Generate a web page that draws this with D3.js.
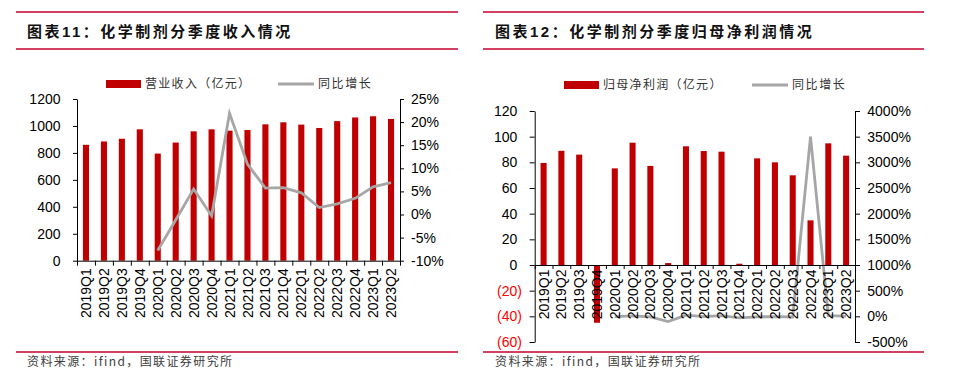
<!DOCTYPE html>
<html><head><meta charset="utf-8">
<script src="https://cdn.jsdelivr.net/npm/d3@7"></script>
<style>body{margin:0;background:#fff}svg{display:block}</style>
</head><body>
<svg id="c" width="956" height="382"></svg>
<script>
const categories = ["2019Q1","2019Q2","2019Q3","2019Q4","2020Q1","2020Q2","2020Q3","2020Q4","2021Q1","2021Q2","2021Q3","2021Q4","2022Q1","2022Q2","2022Q3","2022Q4","2023Q1","2023Q2"];
const revenue = [860, 885, 905, 975, 795, 877, 960, 975, 965, 970, 1012, 1027, 1010, 985, 1036, 1063, 1072, 1052];
const revenueYoY = [null, null, null, null, -7.8, -1.2, 5.5, -0.3, 21.9, 10.9, 5.7, 5.8, 4.7, 1.5, 2.3, 3.5, 6.0, 6.9];
const profit = [79.5, 89, 86, -45, 75.3, 95.3, 77.2, 1.5, 92.5, 88.8, 88.3, 1.0, 83.1, 80, 69.9, 34.8, 94.8, 85.2];
const profitYoY = [null, null, null, null, -5, 7, -10, -102, 23, -7, 14, -30, -10, -4, -13, 3500, 14, 6];
const ticksRevenue = [0, 200, 400, 600, 800, 1000, 1200];
const ticksRevenueYoY = [-10, -5, 0, 5, 10, 15, 20, 25];
const ticksProfit = [-60, -40, -20, 0, 20, 40, 60, 80, 100, 120];
const ticksProfitYoY = [-500, 0, 500, 1000, 1500, 2000, 2500, 3000, 3500, 4000];
const titleLeft = "图表11：化学制剂分季度收入情况";
const titleRight = "图表12：化学制剂分季度归母净利润情况";
const legendBarLeft = "营业收入（亿元）";
const legendBarRight = "归母净利润（亿元）";
const legendLine = "同比增长";
const sourceText = "资料来源：ifind，国联证券研究所";

const RED = "#c00000", GRAY = "#a6a6a6", RULE = "#c4002e";
const NUM_FONT = "'Liberation Sans', Arial, sans-serif";
const CJK_FONT = "'Noto Sans CJK SC', sans-serif";
const svg = d3.select("#c");
svg.append("rect").attr("width",956).attr("height",382).attr("fill","#fff");

function panel(cfg) {
  const g = svg.append("g");
  // rules
  [12, 49, 352].forEach(y => g.append("line").attr("x1", cfg.ruleX0).attr("x2", cfg.ruleX1)
    .attr("y1", y).attr("y2", y).attr("stroke", RULE).attr("stroke-width", 1.3));
  g.append("text").attr("x", cfg.titleX).attr("y", 37).text(cfg.title)
    .attr("font-family", "'Liberation Sans', 'Noto Sans CJK SC', sans-serif").attr("font-weight", "bold")
    .attr("font-size", 15).attr("letter-spacing", 2.5).attr("fill", "#111");
  g.append("text").attr("x", cfg.titleX).attr("y", 362).attr("dy", "0.35em").text(sourceText)
    .attr("font-family", CJK_FONT).attr("font-size", 12).attr("letter-spacing", 1.4).attr("fill", "#404040");
  // legend
  const ly = cfg.legendY;
  g.append("rect").attr("x", cfg.legRect).attr("y", ly - 4).attr("width", 35).attr("height", 8).attr("fill", RED);
  g.append("text").attr("x", cfg.legRect + 39).attr("y", ly).attr("dy", "0.36em").text(cfg.legendBar)
    .attr("font-family", CJK_FONT).attr("font-size", 12).attr("letter-spacing", 1.3).attr("fill", "#333");
  g.append("line").attr("x1", cfg.legLine).attr("x2", cfg.legLine + 36).attr("y1", ly).attr("y2", ly)
    .attr("stroke", GRAY).attr("stroke-width", 3);
  g.append("text").attr("x", cfg.legLine + 40).attr("y", ly).attr("dy", "0.36em").text(legendLine)
    .attr("font-family", CJK_FONT).attr("font-size", 12).attr("letter-spacing", 1.6).attr("fill", "#333");

  const x = d3.scaleBand().domain(categories).range([cfg.x0, cfg.x1]).padding(0);
  const yL = d3.scaleLinear().domain(cfg.domL).range([cfg.yBottom, cfg.yTop]);
  const yR = d3.scaleLinear().domain(cfg.domR).range([cfg.yBottom, cfg.yTop]);
  const bw = x.bandwidth() * 0.34;
  const cx = c => x(c) + x.bandwidth() / 2;

  g.append("g").selectAll("rect").data(categories).join("rect")
    .attr("x", c => cx(c) - bw / 2)
    .attr("y", (c, i) => yL(Math.max(0, cfg.bars[i])))
    .attr("width", bw)
    .attr("height", (c, i) => Math.abs(yL(cfg.bars[i]) - yL(0)))
    .attr("fill", RED);

  const line = d3.line().defined(d => d.v != null).x(d => cx(d.c)).y(d => yR(d.v));
  g.append("path").datum(categories.map((c, i) => ({c, v: cfg.yoy[i]})))
    .attr("d", line).attr("fill", "none").attr("stroke", GRAY).attr("stroke-width", 2.8);

  const axY = yL(0);
  // x axis: labels via d3 axis, ticks at band boundaries
  const xa = g.append("g").attr("transform", `translate(0,${axY})`)
    .call(d3.axisBottom(x).tickSize(0).tickSizeOuter(0));
  xa.select(".domain").remove();
  xa.selectAll(".tick text").attr("transform", "rotate(-90)").attr("text-anchor", "end")
    .attr("x", -cfg.xLabGap).attr("y", 0).attr("dy", "0.36em")
    .attr("font-family", NUM_FONT).attr("font-size", 14).attr("fill", "#000");
  const bx = d3.scaleLinear().domain([0, categories.length]).range([cfg.x0, cfg.x1]);
  const xt = g.append("g").attr("transform", `translate(0,${axY})`)
    .call(d3.axisBottom(bx).tickValues(d3.range(categories.length + 1)).tickSize(cfg.xTick).tickSizeOuter(0).tickFormat(""));
  xt.selectAll("line,path").attr("stroke", "#000");

  const la = g.append("g").attr("transform", `translate(${cfg.x0},0)`)
    .call(d3.axisLeft(yL).tickValues(cfg.ticksL).tickSize(cfg.yTick).tickSizeOuter(0).tickPadding(cfg.padL).tickFormat(cfg.fmtL));
  la.selectAll("line,path").attr("stroke", "#000");
  la.selectAll("text").attr("font-family", NUM_FONT).attr("font-size", 14)
    .attr("fill", d => d < 0 ? "#ff0000" : "#000").attr("dx", d => d < 0 ? 4.7 : 0);

  const ra = g.append("g").attr("transform", `translate(${cfg.x1},0)`)
    .call(d3.axisRight(yR).tickValues(cfg.ticksR).tickSize(cfg.yTick).tickSizeOuter(0).tickPadding(cfg.padR).tickFormat(d => d + "%"));
  ra.selectAll("line,path").attr("stroke", "#000");
  ra.selectAll("text").attr("font-family", NUM_FONT).attr("font-size", 14).attr("fill", "#000");
}

panel({
  ruleX0: 16, ruleX1: 458, titleX: 27, title: titleLeft,
  legendY: 84, legRect: 106, legLine: 278, legendBar: legendBarLeft,
  x0: 77, x1: 400, yTop: 99, yBottom: 260.7,
  domL: [0, 1200], domR: [-10, 25], ticksL: ticksRevenue, ticksR: ticksRevenueYoY,
  bars: revenue, yoy: revenueYoY, fmtL: d => d, padL: 12.5, padR: 7, yTick: 4, xTick: 5, xLabGap: 7.5
});
panel({
  ruleX0: 483, ruleX1: 924, titleX: 495, title: titleRight,
  legendY: 85, legRect: 564, legLine: 752, legendBar: legendBarRight,
  x0: 534.7, x1: 855, yTop: 111, yBottom: 342,
  domL: [-60, 120], domR: [-500, 4000], ticksL: ticksProfit, ticksR: ticksProfitYoY,
  bars: profit, yoy: profitYoY, fmtL: d => d < 0 ? "(" + Math.abs(d) + ")" : d, padL: 12.4, padR: 7.3, yTick: 5, xTick: 4, xLabGap: 4.5
});
</script>
</body></html>
